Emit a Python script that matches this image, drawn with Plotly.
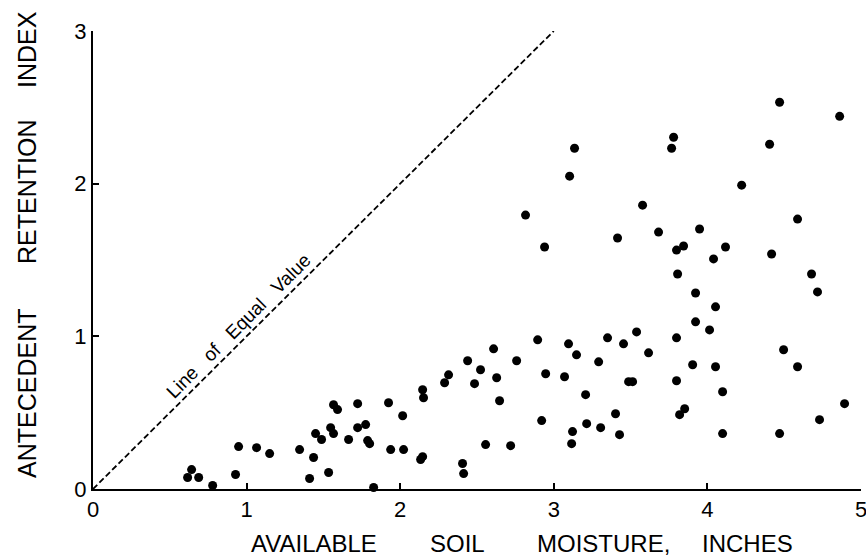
import plotly.graph_objects as go

# Available soil moisture (inches) and antecedent retention index
soil_moisture = [
    0.616, 0.642, 0.688, 0.779, 0.928, 0.948, 1.065, 1.150, 1.345, 1.410,
    1.436, 1.449, 1.488, 1.534, 1.547, 1.566, 1.566, 1.592, 1.664, 1.723,
    1.723, 1.775, 1.788, 1.801, 1.827, 1.924, 1.938, 2.016, 2.022, 2.133,
    2.146, 2.146, 2.152, 2.289, 2.315, 2.406, 2.413, 2.439, 2.484, 2.523,
    2.556, 2.608, 2.628, 2.647, 2.719, 2.758, 2.895, 2.921, 2.947, 3.070,
    3.096, 3.116, 3.122, 3.148, 3.207, 3.214, 3.292, 3.305, 3.350, 3.402,
    3.428, 3.454, 3.487, 3.513, 3.539, 3.617, 3.799, 3.799, 3.819, 3.852,
    3.904, 3.923, 3.923, 4.014, 4.053, 4.053, 4.099, 4.099, 4.470, 4.496,
    4.587, 4.730, 4.893, 4.717, 4.678, 4.418, 4.040, 4.118, 3.845, 3.799,
    3.949, 3.682, 3.415, 3.578, 4.587, 4.223, 4.405, 3.780, 3.767, 4.470,
    4.861, 3.806, 3.135, 3.103, 2.816, 2.940,
]
retention_index = [
    0.075, 0.127, 0.075, 0.023, 0.095, 0.278, 0.271, 0.232, 0.258, 0.069,
    0.206, 0.363, 0.324, 0.108, 0.402, 0.363, 0.552, 0.520, 0.324, 0.559,
    0.402, 0.422, 0.317, 0.297, 0.010, 0.565, 0.258, 0.480, 0.258, 0.193,
    0.212, 0.650, 0.598, 0.696, 0.748, 0.167, 0.101, 0.840, 0.690, 0.781,
    0.291, 0.918, 0.729, 0.578, 0.284, 0.840, 0.977, 0.448, 0.755, 0.735,
    0.951, 0.297, 0.376, 0.879, 0.618, 0.428, 0.833, 0.402, 0.990, 0.493,
    0.356, 0.951, 0.703, 0.703, 1.029, 0.892, 0.990, 0.709, 0.487, 0.526,
    0.814, 1.284, 1.095, 1.042, 1.193, 0.801, 0.637, 0.363, 0.363, 0.912,
    0.801, 0.454, 0.559, 1.291, 1.408, 1.539, 1.507, 1.585, 1.592, 1.565,
    1.703, 1.683, 1.644, 1.859, 1.768, 1.990, 2.258, 2.304, 2.232, 2.533,
    2.441, 1.408, 2.232, 2.049, 1.794, 1.585,
]

# Line of equal value
equal_x = [0, 3]
equal_y = [0, 3]

x_ticks = [0, 1, 2, 3, 4, 5]
y_ticks = [0, 1, 2, 3]

x_title_words = ["AVAILABLE", "SOIL", "MOISTURE,", "INCHES"]
x_title_pos = [314, 457, 603, 747]       # pixel centres of the words
y_title_words = ["ANTECEDENT", "RETENTION", "INDEX"]
y_title_pos = [394, 192, 50]

FONT = "Liberation Sans, Arial, sans-serif"
W, H = 866, 558
ML, MR, MT, MB = 93, 5, 31, 69

fig = go.Figure()
fig.add_trace(go.Scatter(
    x=equal_x, y=equal_y, mode="lines",
    line=dict(color="black", width=1.8, dash="6px,3px"),
    hoverinfo="skip", showlegend=False, cliponaxis=False,
))
fig.add_trace(go.Scatter(
    x=soil_moisture, y=retention_index, mode="markers",
    marker=dict(color="black", size=9),
    showlegend=False, cliponaxis=False,
))

fig.add_annotation(
    x=0.95, y=1.07, xref="x", yref="y",
    text="Line\u00a0\u00a0\u00a0of\u00a0\u00a0\u00a0Equal\u00a0\u00a0\u00a0Value",
    textangle=-45, showarrow=False,
    font=dict(family=FONT, size=19, color="black"),
    xanchor="center", yanchor="middle",
)

for word, px in zip(x_title_words, x_title_pos):
    fig.add_annotation(
        x=(px - ML) / (W - ML - MR), y=(H - 543.5 - MB) / (H - MT - MB),
        xref="paper", yref="paper", text=word, showarrow=False, borderpad=0,
        font=dict(family=FONT, size=24, color="black"),
        xanchor="center", yanchor="middle",
    )
for word, py in zip(y_title_words, y_title_pos):
    fig.add_annotation(
        x=(27 - ML) / (W - ML - MR), y=(H - py - MB) / (H - MT - MB),
        xref="paper", yref="paper", text=word, showarrow=False, textangle=-90,
        font=dict(family=FONT, size=25, color="black"),
        xanchor="center", yanchor="middle",
    )

axis_common = dict(
    showgrid=False, zeroline=False, showline=True, linecolor="black", linewidth=2,
    ticks="inside", ticklen=6, tickwidth=2, tickcolor="black",
    tickfont=dict(family=FONT, size=22, color="black"),
    ticklabeloverflow="allow", automargin=False,
)
fig.update_xaxes(range=[0, 5], tickvals=x_ticks, ticktext=[str(v) for v in x_ticks], **axis_common)
fig.update_yaxes(range=[0, 3], tickvals=y_ticks, ticktext=[str(v) for v in y_ticks], **axis_common)

fig.update_layout(
    width=W, height=H,
    margin=dict(l=ML, r=MR, t=MT, b=MB, pad=0, autoexpand=False),
    plot_bgcolor="white", paper_bgcolor="white",
    font=dict(family=FONT, color="black"),
)

fig.write_html(
    "out.html",
    config={"displayModeBar": False},
    post_script="document.body.style.margin='0';document.body.style.overflow='hidden';",
)
